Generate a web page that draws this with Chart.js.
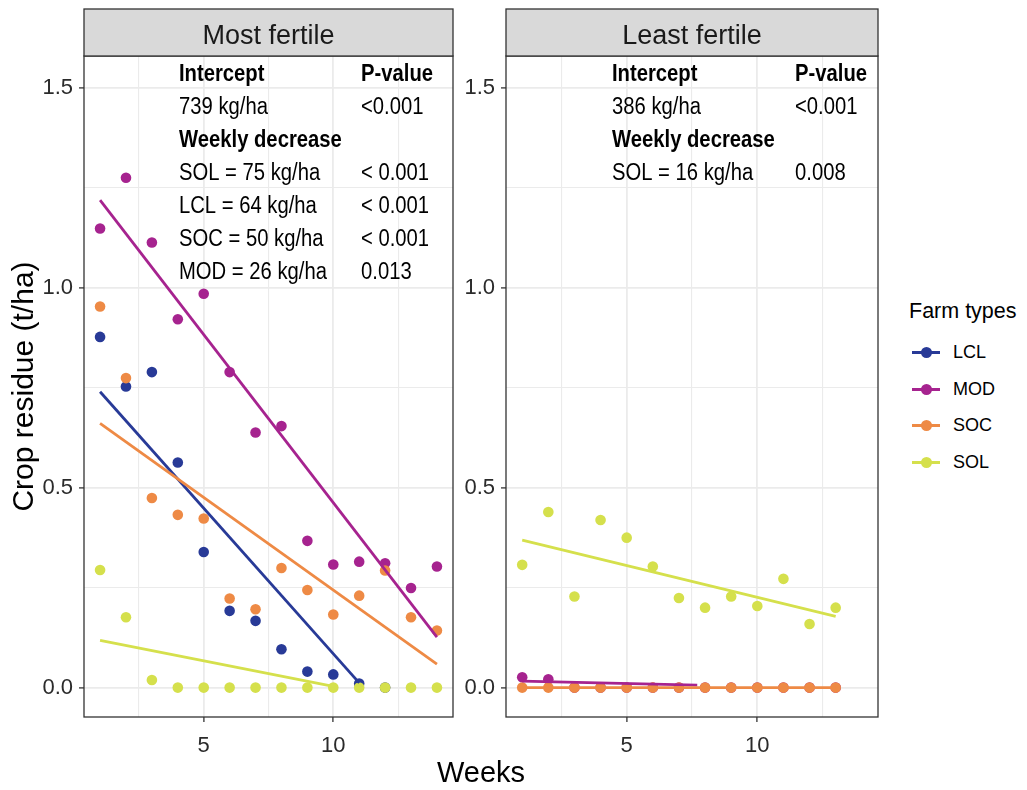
<!DOCTYPE html>
<html>
<head>
<meta charset="utf-8">
<title>Crop residue by week</title>
<script src="https://cdn.jsdelivr.net/npm/chart.js@4.4.1/dist/chart.umd.min.js"></script>
<style>
    body {
        margin: 0;
        width: 1027px;
        height: 790px;
        position: relative;
        overflow: hidden;
        background: #fff;
        font-family: "Liberation Sans", Arial, sans-serif;
    }
    .panel { position: absolute; top: 0; }
    #xTitle {
        position: absolute;
        left: 381px;
        top: 755px;
        width: 200px;
        text-align: center;
        font-size: 29px;
        line-height: 34px;
        color: #000;
    }
    #legend { position: absolute; left: 909px; top: 296px; color: #000; }
    .lg-title { font-size: 21.5px; line-height: 30px; height: 30px; margin-bottom: 8px; }
    .lg-item { font-size: 18px; height: 36.7px; line-height: 36.7px; display: flex; align-items: center; }
    .lg-key { position: relative; width: 28px; height: 3px; margin: 0 13px 0 3px; }
    .lg-key::after {
        content: '';
        position: absolute;
        left: 9px;
        top: -4px;
        width: 11px;
        height: 11px;
        border-radius: 50%;
        background: inherit;
    }
</style>
</head>
<body>
<div class="panel" style="left:0"><canvas id="mostChart" width="462" height="790"></canvas></div>
<div class="panel" style="left:462px"><canvas id="leastChart" width="430" height="790"></canvas></div>
<div id="xTitle">Weeks</div>
<div id="legend"></div>

<script>
// ── Data ─────────────────────────────────────────
const farmTypes = ['LCL', 'MOD', 'SOC', 'SOL'];
const farmColors = ['#283a97', '#a6238f', '#ee8a45', '#d5e04c'];

const weeks = [1, 2, 3, 4, 5, 6, 7, 8, 9, 10, 11, 12, 13, 14];

// Most fertile farms, crop residue (t/ha) per week
const mostLCL = [0.877, 0.753, 0.789, 0.563, 0.339, 0.192, 0.167, 0.096, 0.040, 0.033, 0.010, 0.000];
const mostMOD = [1.148, 1.275, 1.113, 0.921, 0.985, 0.789, 0.638, 0.654, 0.367, 0.308, 0.315, 0.311, 0.249, 0.303];
const mostSOC = [0.953, 0.774, 0.474, 0.432, 0.423, 0.223, 0.196, 0.299, 0.244, 0.183, 0.230, 0.293, 0.176, 0.143];
const mostSOL = [0.294, 0.176, 0.019, 0, 0, 0, 0, 0, 0, 0, 0, 0, 0, 0];

// Least fertile farms
const leastLCL = [];
const leastMOD = [0.026, 0.021, 0, 0, 0, 0, 0, 0, 0, 0, 0, 0, 0];
const leastSOC = [0, 0, 0, 0, 0, 0, 0, 0, 0, 0, 0, 0, 0];
const leastSOL = [0.307, 0.439, 0.228, 0.419, 0.375, 0.303, 0.224, 0.200, 0.228, 0.204, 0.272, 0.159, 0.200];

// Fitted trend lines: [week, t/ha] at each end
const fitMostLCL = [[1, 0.740], [11, 0.012]];
const fitMostMOD = [[1, 1.219], [14, 0.126]];
const fitMostSOC = [[1, 0.661], [14, 0.059]];
const fitMostSOL = [[1, 0.118], [10, 0.003]];
const fitLeastLCL = [];
const fitLeastMOD = [[1, 0.016], [7.7, 0.006]];
const fitLeastSOC = [[1, 0], [13, 0]];
const fitLeastSOL = [[1, 0.369], [13, 0.178]];

// Axis ticks
const yTicks = [0, 0.25, 0.5, 0.75, 1, 1.25, 1.5];
const yLabels = [0, 0.5, 1, 1.5];
const xTicks = [2.5, 5, 7.5, 10, 12.5];
const xLabels = [5, 10];

// Regression summaries printed inside each panel
const mostNotes = [
    ['Intercept', 'P-value', true],
    ['739 kg/ha', '<0.001'],
    ['Weekly decrease', '', true],
    ['SOL = 75 kg/ha', '< 0.001'],
    ['LCL = 64 kg/ha', '< 0.001'],
    ['SOC = 50 kg/ha', '< 0.001'],
    ['MOD = 26 kg/ha', '0.013']
];
const leastNotes = [
    ['Intercept', 'P-value', true],
    ['386 kg/ha', '<0.001'],
    ['Weekly decrease', '', true],
    ['SOL = 16 kg/ha', '0.008']
];

// ── Helpers ──────────────────────────────────────
const FONT = '"Liberation Sans", Arial, sans-serif';

const toPoints = (values) => values.map((y, i) => ({ x: weeks[i], y }));
const toLine = (pairs) => pairs.map(([x, y]) => ({ x, y }));

function buildDatasets(series, fits) {
    const sets = [];
    series.forEach((values, i) => {
        sets.push({
            data: toPoints(values),
            showLine: false,
            pointRadius: 5.3,
            pointHoverRadius: 5.3,
            pointBackgroundColor: farmColors[i],
            pointBorderColor: farmColors[i],
            pointBorderWidth: 0,
            order: 20 - i
        });
    });
    fits.forEach((pairs, i) => {
        sets.push({
            data: toLine(pairs),
            showLine: true,
            borderColor: farmColors[i],
            borderWidth: 2.8,
            pointRadius: 0,
            tension: 0,
            order: 10 - i
        });
    });
    return sets;
}

const isMajorY = v => yLabels.includes(v);
const isMajorX = v => xLabels.includes(v);

function yScale(axisWidth, showTitle) {
    return {
        type: 'linear',
        min: -0.0735,
        max: 1.5795,
        afterBuildTicks: s => { s.ticks = yTicks.map(v => ({ value: v })); },
        afterFit: s => { s.width = axisWidth; },
        border: { display: false },
        grid: {
            color: '#ebebeb',
            lineWidth: c => (c.tick && isMajorY(c.tick.value)) ? 1.8 : 1.1,
            tickColor: c => (c.tick && isMajorY(c.tick.value)) ? '#333' : 'rgba(0,0,0,0)',
            tickWidth: 1.3,
            tickLength: 5
        },
        ticks: {
            callback: v => isMajorY(v) ? v.toFixed(1) : '',
            color: '#2b2b2b',
            font: { family: FONT, size: 22 },
            padding: 6
        },
        title: {
            display: showTitle,
            text: 'Crop residue (t/ha)',
            color: '#000',
            font: { family: FONT, size: 30 },
            padding: { top: 7, bottom: 0 }
        }
    };
}

function xScale() {
    return {
        type: 'linear',
        min: 0.38,
        max: 14.62,
        afterBuildTicks: s => { s.ticks = xTicks.map(v => ({ value: v })); },
        afterFit: s => { s.height = 73; },
        border: { display: false },
        grid: {
            color: '#ebebeb',
            lineWidth: c => (c.tick && isMajorX(c.tick.value)) ? 1.8 : 1.1,
            tickColor: c => (c.tick && isMajorX(c.tick.value)) ? '#333' : 'rgba(0,0,0,0)',
            tickWidth: 1.3,
            tickLength: 5
        },
        ticks: {
            callback: v => isMajorX(v) ? String(v) : '',
            autoSkip: false,
            maxRotation: 0,
            color: '#2b2b2b',
            font: { family: FONT, size: 22 },
            padding: 11
        }
    };
}

// Panel frame, facet strip and the summary text
const panelDecor = {
    id: 'panelDecor',
    afterDraw(chart, args, opts) {
        const { ctx, chartArea: a } = chart;
        const w = a.right - a.left;
        ctx.save();
        ctx.strokeStyle = '#333';
        ctx.lineWidth = 1.3;
        ctx.strokeRect(a.left, a.top, w, a.bottom - a.top);

        ctx.fillStyle = '#d9d9d9';
        ctx.fillRect(a.left, 9, w, a.top - 9);
        ctx.strokeRect(a.left, 9, w, a.top - 9);
        ctx.fillStyle = '#1a1a1a';
        ctx.font = `27px ${FONT}`;
        ctx.textAlign = 'center';
        ctx.textBaseline = 'middle';
        ctx.fillText(opts.strip, a.left + w / 2, (9 + a.top) / 2 + 4);

        ctx.fillStyle = '#000';
        ctx.textAlign = 'left';
        opts.notes.forEach((row, i) => {
            const y = a.top + 19 + i * 33;
            ctx.font = `${row[2] ? 'bold ' : ''}23px ${FONT}`;
            [row[0], row[1]].forEach((txt, k) => {
                if (!txt) return;
                ctx.save();
                ctx.translate(a.left + opts.cols[k], y);
                ctx.scale(0.88, 1);
                ctx.fillText(txt, 0, 0);
                ctx.restore();
            });
        });
        ctx.restore();
    }
};

function makePanel(canvasId, series, fits, opts) {
    return new Chart(document.getElementById(canvasId), {
        type: 'scatter',
        data: { datasets: buildDatasets(series, fits) },
        options: {
            responsive: false,
            animation: false,
            devicePixelRatio: 1,
            layout: { padding: { top: 56, right: opts.padRight, bottom: 0, left: 0 } },
            plugins: {
                legend: { display: false },
                tooltip: { enabled: false },
                panelDecor: { strip: opts.strip, notes: opts.notes, cols: opts.cols }
            },
            scales: {
                x: xScale(),
                y: yScale(opts.axisWidth, opts.showTitle)
            }
        },
        plugins: [panelDecor]
    });
}

// ── Charts ───────────────────────────────────────
makePanel('mostChart',
    [mostLCL, mostMOD, mostSOC, mostSOL],
    [fitMostLCL, fitMostMOD, fitMostSOC, fitMostSOL],
    { strip: 'Most fertile', notes: mostNotes, cols: [95, 277], axisWidth: 84, padRight: 9, showTitle: true });

makePanel('leastChart',
    [leastLCL, leastMOD, leastSOC, leastSOL],
    [fitLeastLCL, fitLeastMOD, fitLeastSOC, fitLeastSOL],
    { strip: 'Least fertile', notes: leastNotes, cols: [106, 289], axisWidth: 44, padRight: 14, showTitle: false });

// Legend
document.getElementById('legend').innerHTML =
    '<div class="lg-title">Farm types</div>' +
    farmTypes.map((f, i) =>
        `<div class="lg-item"><span class="lg-key" style="background:${farmColors[i]}"></span>${f}</div>`
    ).join('');
</script>
</body>
</html>
